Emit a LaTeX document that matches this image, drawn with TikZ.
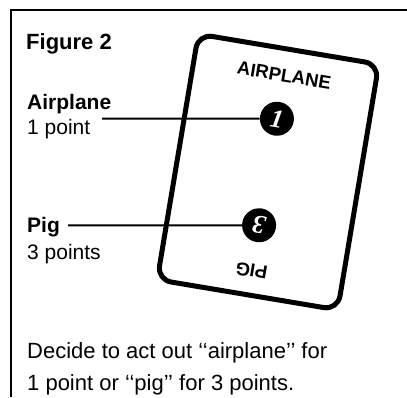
\documentclass[tikz,border=0pt]{standalone}
\usepackage{fontspec}
\setmainfont{Liberation Sans}
\newfontfamily\digitfont{Liberation Serif}
\begin{document}
\begin{tikzpicture}[x=1pt,y=1pt,
  lbl/.style={anchor=base west, inner sep=0pt, font=\fontsize{21}{25}\selectfont},
  blbl/.style={anchor=base west, inner sep=0pt, font=\fontsize{21}{25}\selectfont\bfseries},
  bodytxt/.style={anchor=base west, inner sep=0pt, font=\fontsize{22}{25}\selectfont},
  cardtxt/.style={inner sep=0pt, font=\fontsize{18.5}{20}\selectfont\bfseries, transform shape},
  badge/.style={circle, fill=black, minimum size=34pt, inner sep=0pt, text=white,
    font=\digitfont\fontsize{26}{26}\selectfont\bfseries\itshape, transform shape},
  conn/.style={line width=2pt},
  frameline/.style={line width=2pt},
  cardline/.style={line width=5pt, rounded corners=14pt}]
\useasboundingbox (0,0) rectangle (407,-397);
\fill[white] (0,0) rectangle (407,-397);
\draw[frameline] (407,-10) -- (10.5,-10) -- (10.5,-397);
\begin{scope}[shift={(268,-172)}, rotate=-9.5]
  \draw[cardline] (-91.5,-124.5) rectangle (91.5,124.5);
  \node[cardtxt] (airplanetxt) at (0,98) {AIRPLANE};
  \node[cardtxt, rotate=180] (pigtxt) at (0,-100) {PIG};
  \node[badge] (c1) at (0,54) {1};
  \node[badge, rotate=180] (c3) at (0,-54) {3};
\end{scope}
\coordinate (ref1) at (102,0);
\coordinate (ref3) at (68,0);
\coordinate (a1) at (c1 -| ref1);
\coordinate (a3) at (c3 -| ref3);
\draw[conn] (a1) -- (c1);
\draw[conn] (a3) -- (c3);
\node[blbl, font=\fontsize{22}{25}\selectfont\bfseries] (fig) at (26,-49) {Figure 2};
\node[blbl] (airlbl) at (27,-109) {Airplane};
\node[lbl] (onept) at (27,-134) {1 point};
\node[blbl] (piglbl) at (27,-232) {Pig};
\node[lbl] (threept) at (27,-259) {3 points};
\node[bodytxt] (dec1) at (27,-358) {Decide to act out ‘‘airplane’’ for};
\node[bodytxt] (dec2) at (27,-390) {1 point or ‘‘pig’’ for 3 points.};
\end{tikzpicture}
\end{document}
